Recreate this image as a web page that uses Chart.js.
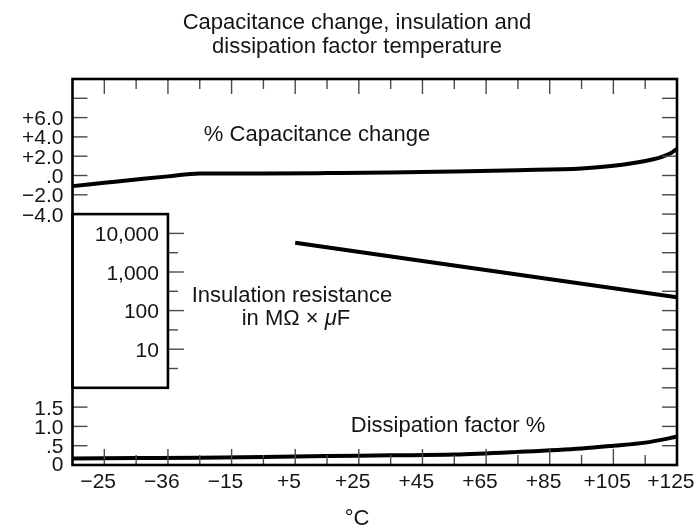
<!DOCTYPE html>
<html>
<head>
<meta charset="utf-8">
<title>Capacitance change, insulation and dissipation factor temperature</title>
<script src="https://cdn.jsdelivr.net/npm/chart.js@4"></script>
<style>
  html, body { margin: 0; padding: 0; background: #fff; }
  #wrap { width: 695px; height: 527px; position: relative; }
</style>
</head>
<body>
<div id="wrap"><canvas id="tempChart"></canvas></div>
<script>
// --- Data ---
// x axis: temperature positions of the labelled ticks and the labels printed there
const tempTicks = [-55, -35, -15, 5, 25, 45, 65, 85, 105, 125];
const tempLabels = ['\u221225', '\u221236', '\u221215', '+5', '+25', '+45', '+65', '+85', '+105', '+125'];

// % capacitance change (top panel)
const capTemps = [-65, -55, -45, -35, -25, -5, 15, 35, 55, 75, 95, 105, 115, 120, 123, 125];
const capValues = [-1.1, -0.76, -0.42, -0.09, 0.2, 0.22, 0.25, 0.3, 0.42, 0.55, 0.72, 1.0, 1.5, 1.9, 2.3, 2.75];
const capTicks = [-4, -2, 0, 2, 4, 6, 8];
const capLabels = ['\u22124.0', '\u22122.0', '.0', '+2.0', '+4.0', '+6.0', ''];

// insulation resistance in MOhm x uF (middle panel, log)
const irTemps = [5, 125];
const irValues = [5700, 220];
const irTicks = [10, 100, 1000, 10000];
const irLabels = ['10', '100', '1,000', '10,000'];
const irMinor = [3.162, 31.62, 316.2, 3162];

// dissipation factor % (bottom panel)
const dfTemps = [-65, -45, -25, -5, 15, 35, 55, 75, 95, 105, 115, 125];
const dfValues = [0.17, 0.18, 0.19, 0.21, 0.23, 0.25, 0.27, 0.34, 0.43, 0.5, 0.58, 0.73];
const dfTicks = [0, 0.5, 1.0, 1.5, 2.0];
const dfLabels = ['0', '.5', '1.0', '1.5', ''];

const toPoints = (xs, ys) => xs.map((x, i) => ({ x: x, y: ys[i] }));

const FONT = "'Liberation Sans', Arial, Helvetica, sans-serif";
const TEXT = '#151515';

// --- Frame, ticks, box and all text drawn against the chart's own scales ---
const framePlugin = {
    id: 'frame',
    afterDraw(chart) {
        const { ctx, chartArea: a, scales } = chart;
        const xs = scales.x, yc = scales.yCap, yi = scales.yIR, yd = scales.yDF;

        const line = (x1, y1, x2, y2) => {
            ctx.beginPath();
            ctx.moveTo(x1, y1);
            ctx.lineTo(x2, y2);
            ctx.stroke();
        };

        ctx.save();
        ctx.strokeStyle = '#4a4a4a';
        ctx.lineWidth = 1.4;

        // top and bottom ticks
        tempTicks.forEach(t => {
            const px = xs.getPixelForValue(t);
            line(px, a.bottom, px, a.bottom - 16);
            line(px, a.top, px, a.top + 15);
        });
        tempTicks.slice(0, -1).forEach(t => {
            const px = xs.getPixelForValue(t + 10);
            line(px, a.bottom, px, a.bottom - 10);
            line(px, a.top, px, a.top + 10);
        });

        // left ticks
        capTicks.filter(v => v > -4).forEach(v => {
            const py = yc.getPixelForValue(v);
            line(a.left, py, a.left + 15, py);
        });
        dfTicks.filter(v => v > 0 && v < 2).forEach(v => {
            const py = yd.getPixelForValue(v);
            line(a.left, py, a.left + 15, py);
        });

        // right ticks
        capTicks.forEach(v => {
            const py = yc.getPixelForValue(v);
            line(a.right, py, a.right - 15, py);
        });
        irMinor.concat(irTicks).forEach(v => {
            const py = yi.getPixelForValue(v);
            line(a.right, py, a.right - 15, py);
        });
        dfTicks.filter(v => v > 0).forEach(v => {
            const py = yd.getPixelForValue(v);
            line(a.right, py, a.right - 15, py);
        });

        // insulation scale box
        const boxRight = xs.getPixelForValue(-35);
        const boxTop = yc.getPixelForValue(-4);
        const boxBottom = yd.getPixelForValue(2);
        irTicks.forEach(v => {
            const py = yi.getPixelForValue(v);
            line(boxRight, py, boxRight + 16, py);
        });
        irMinor.forEach(v => {
            const py = yi.getPixelForValue(v);
            line(boxRight, py, boxRight + 10, py);
        });

        // frame
        ctx.strokeStyle = '#000';
        ctx.lineWidth = 2.6;
        ctx.strokeRect(a.left, a.top, a.right - a.left, a.bottom - a.top);
        ctx.strokeRect(a.left, boxTop, boxRight - a.left, boxBottom - boxTop);

        // tick labels
        ctx.fillStyle = TEXT;
        ctx.font = '21px ' + FONT;
        ctx.textBaseline = 'alphabetic';
        const lift = 7.5;

        ctx.textAlign = 'right';
        capTicks.forEach((v, i) => {
            if (capLabels[i]) ctx.fillText(capLabels[i], a.left - 9, yc.getPixelForValue(v) + lift);
        });
        dfTicks.forEach((v, i) => {
            if (dfLabels[i]) ctx.fillText(dfLabels[i], a.left - 9, yd.getPixelForValue(v) + lift - (v === 0 ? 2 : 0));
        });
        irTicks.forEach((v, i) => {
            ctx.fillText(irLabels[i], boxRight - 9, yi.getPixelForValue(v) + lift);
        });

        // x labels: the digits sit centred on the tick, the sign hangs to the left
        tempTicks.forEach((t, i) => {
            const lab = tempLabels[i];
            const digits = lab.replace(/^[+\u2212]/, '');
            const px = xs.getPixelForValue(t);
            ctx.fillText(lab, px + ctx.measureText(digits).width / 2, a.bottom + 23);
        });

        // title and annotations
        ctx.font = '22px ' + FONT;
        ctx.textAlign = 'center';
        ctx.fillText('Capacitance change, insulation and', 357, 29);
        ctx.fillText('dissipation factor temperature', 357, 53);
        ctx.fillText('% Capacitance change', 317, 141);
        ctx.fillText('Insulation resistance', 292, 301.5);
        ctx.fillText('Dissipation factor %', 448, 432);
        ctx.fillText('\u00B0C', 357, 525);

        // "in MΩ × μF" with an italic mu
        const parts = [
            { s: 'in M\u03A9 \u00D7 ', f: '22px ' + FONT },
            { s: '\u03BC', f: 'italic 22px ' + FONT },
            { s: 'F', f: '22px ' + FONT }
        ];
        let total = 0;
        parts.forEach(p => { ctx.font = p.f; p.w = ctx.measureText(p.s).width; total += p.w; });
        let cx = 296 - total / 2;
        ctx.textAlign = 'left';
        parts.forEach(p => { ctx.font = p.f; ctx.fillText(p.s, cx, 325); cx += p.w; });

        ctx.restore();
    }
};

const lineStyle = {
    borderColor: '#000',
    borderWidth: 4,
    pointRadius: 0,
    fill: false,
    cubicInterpolationMode: 'monotone'
};

new Chart(document.getElementById('tempChart'), {
    type: 'line',
    data: {
        datasets: [
            { label: '% Capacitance change', data: toPoints(capTemps, capValues), yAxisID: 'yCap', ...lineStyle },
            { label: 'Insulation resistance', data: toPoints(irTemps, irValues), yAxisID: 'yIR', ...lineStyle },
            { label: 'Dissipation factor %', data: toPoints(dfTemps, dfValues), yAxisID: 'yDF', ...lineStyle }
        ]
    },
    options: {
        responsive: true,
        maintainAspectRatio: false,
        animation: false,
        layout: { padding: { left: 72.5, right: 18, top: 79, bottom: 62 } },
        plugins: { legend: { display: false }, tooltip: { enabled: false }, title: { display: false } },
        scales: {
            // each y scale spans the whole plot; the ranges put its panel in the right band
            x: { type: 'linear', min: -65, max: 125, display: false },
            yCap: { type: 'linear', min: -30, max: 10, display: false },
            yIR: { type: 'logarithmic', min: 0.01, max: 1e8, display: false },
            yDF: { type: 'linear', min: 0, max: 10, display: false }
        }
    },
    plugins: [framePlugin]
});
</script>
</body>
</html>
